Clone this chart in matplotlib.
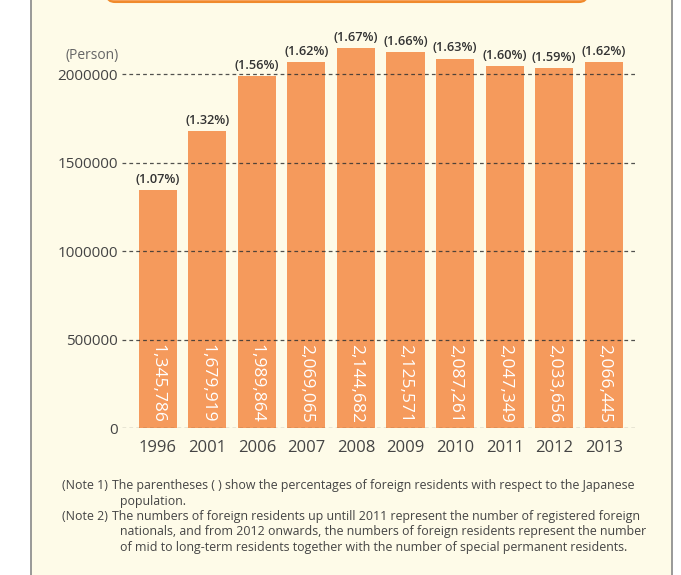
import matplotlib.pyplot as plt
from matplotlib.patches import FancyBboxPatch, Rectangle

# ─── data ───────────────────────────────────────────
years = ['1996', '2001', '2006', '2007', '2008', '2009', '2010', '2011', '2012', '2013']
residents = [1345786, 1679919, 1989864, 2069065, 2144682, 2125571, 2087261, 2047349, 2033656, 2066445]
shares = ['(1.07%)', '(1.32%)', '(1.56%)', '(1.62%)', '(1.67%)', '(1.66%)',
          '(1.63%)', '(1.60%)', '(1.59%)', '(1.62%)']
yticks = [0, 500000, 1000000, 1500000, 2000000]

# (prefix, text) per line; an empty prefix means an indented continuation line
notes = [
    ("(Note 1)", "The parentheses ( ) show the percentages of foreign residents with respect to the Japanese"),
    ("", "population."),
    ("(Note 2)", "The numbers of foreign residents up untill 2011 represent the number of registered foreign"),
    ("", "nationals, and from 2012 onwards, the numbers of foreign residents represent the number"),
    ("", "of mid to long-term residents together with the number of special permanent residents."),
]

plt.rcParams['font.family'] = ['Open Sans', 'DejaVu Sans']

bar_color = '#F59A5C'
bg = '#FEFBE8'
txt = '#444444'

fig = plt.figure(figsize=(6.81, 5.75), dpi=100)
fig.patch.set_facecolor('white')

# --- cream panel and orange header strip ---
fig.patches.append(Rectangle((31/681, -0.01), 641/681, 1.02, transform=fig.transFigure,
                             facecolor=bg, edgecolor='#888888', linewidth=1.2, zorder=0))
fig.patches.append(FancyBboxPatch((107/681, 1 - 2/575), 480/681, 0.05, transform=fig.transFigure,
                                  boxstyle='round,pad=0,rounding_size=0.012',
                                  facecolor='#F7A460', edgecolor='#F08A2C', linewidth=1.5, zorder=1))

ax = fig.add_axes([122/681, 147/575, 515/681, 407/575])
ax.set_zorder(5)
ax.set_facecolor('none')

x = range(len(years))
ax.bar(x, residents, width=0.77, color=bar_color, zorder=2)

# --- labels on bars ---
for i, (v, s) in enumerate(zip(residents, shares)):
    ax.text(i, 30000, f'{v:,}', rotation=270, ha='center', va='bottom',
            color='white', fontsize=12.5, zorder=4)
    ax.annotate(s, (i, v), xytext=(0, 3), textcoords='offset points',
                ha='center', va='bottom', fontsize=9.2, fontweight='semibold',
                color='#333333', zorder=4)

# --- axes styling ---
ax.set_xlim(-0.72, 9.67)
ax.set_ylim(0, 2300000)
ax.set_xticks(list(x))
ax.set_xticklabels(years, fontsize=12, color=txt)
ax.set_yticks(yticks)
ax.set_yticklabels([str(t) for t in yticks], fontsize=11, color=txt)
ax.tick_params(axis='both', length=0)
ax.tick_params(axis='y', pad=3)
ax.tick_params(axis='x', pad=9)
for sp in ax.spines.values():
    sp.set_visible(False)
for t in yticks:
    ax.axhline(t, color='#333333', linestyle=(0, (3, 2.5)), linewidth=0.9, alpha=0.85, zorder=3)

fig.text(92/681, 1 - 55/575, '(Person)', ha='center', va='center', fontsize=10, color='#666666')

# --- notes ---
y0 = 1 - 489/575
for k, (pre, line) in enumerate(notes):
    yy = y0 - k * 15.5/575
    if pre:
        fig.text(62/681, yy, pre, ha='left', va='baseline', fontsize=8.9, color=txt)
        fig.text(112/681, yy, line, ha='left', va='baseline', fontsize=8.9, color=txt)
    else:
        fig.text(120/681, yy, line, ha='left', va='baseline', fontsize=8.9, color=txt)

plt.savefig('out.png', dpi=100, facecolor=fig.get_facecolor())
